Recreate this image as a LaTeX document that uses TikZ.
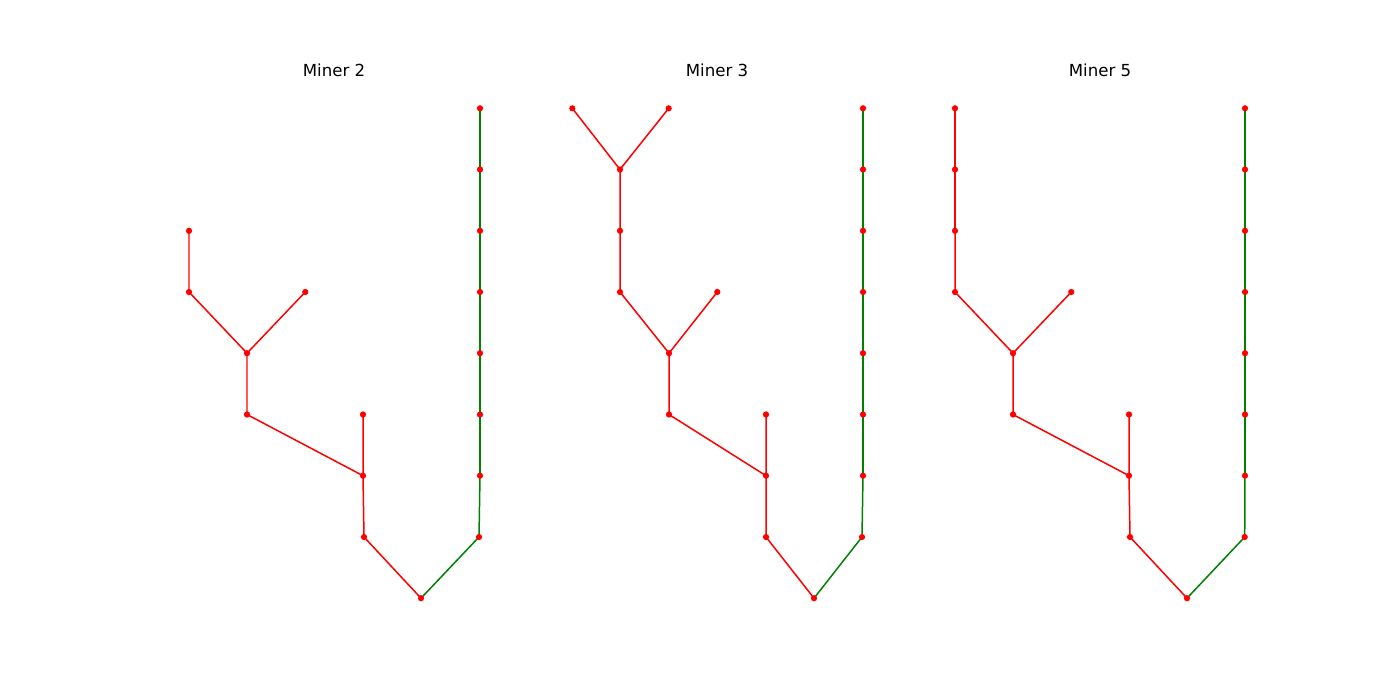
\documentclass[tikz,border=0pt]{standalone}
\usepackage{fontspec}
\setmainfont{DejaVu Sans}
\usepackage{tikz}
\usetikzlibrary{positioning,backgrounds}
\usepackage{xcolor}
\definecolor{mplgreen}{HTML}{008000}
\definecolor{mplred}{HTML}{FF0000}

\begin{document}
\begin{tikzpicture}[x=0.02cm, y=-0.02cm,
    dot/.style={circle, fill=mplred, inner sep=0, minimum size=0.125cm},
    redge/.style={draw=mplred, line width=0.85pt},
    gedge/.style={draw=mplgreen, line width=0.85pt},
    title/.style={font=\fontsize{9.45}{11}\selectfont, anchor=base}]

  % Canvas
  \useasboundingbox (0, 0) rectangle (1400, 700);

  % Rows
  \def\ya{108.3} \def\yb{169.5} \def\yc{230.8} \def\yd{292}
  \def\ye{353.2} \def\yf{414.5} \def\yg{475.7} \def\yh{537} \def\yi{598.2}

  % Titles
  \node[title] (t2) at (334, 76.7) {Miner 2};
  \node[title] (t3) at (717, 76.7) {Miner 3};
  \node[title] (t5) at (1100, 76.7) {Miner 5};

  % Miner 2
  \node[dot] (br) at (421, \yi) {};
  \node[dot] (bg1) at (479, \yh) {};
  \foreach \n/\y in {2/\yg, 3/\yf, 4/\ye, 5/\yd, 6/\yc, 7/\yb, 8/\ya}
    \node[dot] (bg\n) at (480, \y) {};
  \node[dot] (ba) at (364, \yh) {};
  \node[dot] (bb) at (363, \yg) {};
  \node[dot] (bc) at (363, \yf) {};
  \node[dot] (bd) at (247, \yf) {};
  \node[dot] (be) at (247, \ye) {};
  \node[dot] (bf) at (189, \yd) {};
  \node[dot] (bh) at (189, \yc) {};
  \node[dot] (bk) at (305.3, \yd) {};

  % Miner 3
  \node[dot] (cr) at (814, \yi) {};
  \node[dot] (cg1) at (862, \yh) {};
  \foreach \n/\y in {2/\yg, 3/\yf, 4/\ye, 5/\yd, 6/\yc, 7/\yb, 8/\ya}
    \node[dot] (cg\n) at (863, \y) {};
  \node[dot] (ca) at (766, \yh) {};
  \node[dot] (cb) at (766, \yg) {};
  \node[dot] (cc) at (766, \yf) {};
  \node[dot] (cd) at (669, \yf) {};
  \node[dot] (ce) at (669, \ye) {};
  \node[dot] (cf) at (620, \yd) {};
  \node[dot] (ck) at (717.3, \yd) {};
  \node[dot] (ch) at (620, \yc) {};
  \node[dot] (ci) at (620, \yb) {};
  \node[dot] (cl) at (572.3, \ya) {};
  \node[dot] (cm) at (668.7, \ya) {};

  % Miner 5
  \node[dot] (dr) at (1187, \yi) {};
  \node[dot] (dg1) at (1244.7, \yh) {};
  \foreach \n/\y in {2/\yg, 3/\yf, 4/\ye, 5/\yd, 6/\yc, 7/\yb, 8/\ya}
    \node[dot] (dg\n) at (1245, \y) {};
  \node[dot] (da) at (1130, \yh) {};
  \node[dot] (db) at (1129, \yg) {};
  \node[dot] (dc) at (1129, \yf) {};
  \node[dot] (dd) at (1013, \yf) {};
  \node[dot] (de) at (1013, \ye) {};
  \node[dot] (df) at (955, \yd) {};
  \node[dot] (dk) at (1071.3, \yd) {};
  \node[dot] (dh) at (955, \yc) {};
  \node[dot] (di) at (955, \yb) {};
  \node[dot] (dl) at (955, \ya) {};

  % Edges
  \begin{scope}[on background layer]
    \foreach \m in {b, c, d} {
      \draw[gedge] (\m r.center) -- (\m g1.center);
      \foreach \p/\q in {1/2, 2/3, 3/4, 4/5, 5/6, 6/7, 7/8}
        \draw[gedge] (\m g\p.center) -- (\m g\q.center);
      \draw[redge] (\m r.center) -- (\m a.center) -- (\m b.center) -- (\m c.center);
      \draw[redge] (\m b.center) -- (\m d.center) -- (\m e.center) -- (\m f.center) -- (\m h.center);
      \draw[redge] (\m e.center) -- (\m k.center);
    }
    \draw[redge] (ch.center) -- (ci.center) -- (cl.center);
    \draw[redge] (ci.center) -- (cm.center);
    \draw[redge] (dh.center) -- (di.center) -- (dl.center);
  \end{scope}

\end{tikzpicture}
\end{document}
